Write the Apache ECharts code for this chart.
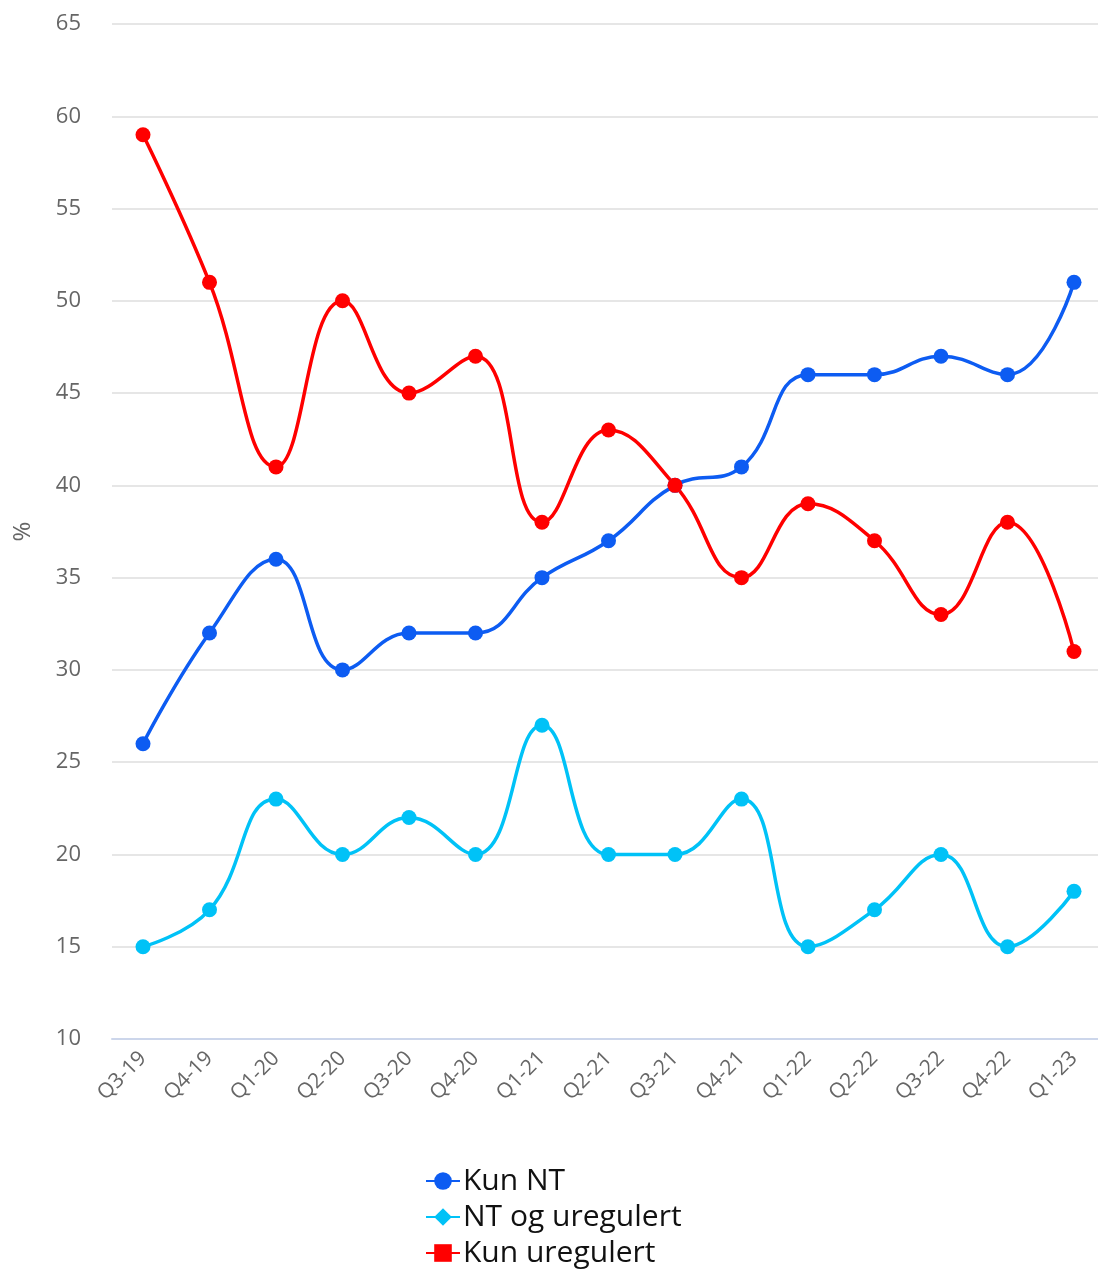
<!DOCTYPE html>
<html><head><meta charset="utf-8">
<script src="https://cdn.jsdelivr.net/npm/echarts@6/dist/echarts.min.js"></script>
<style>html,body{margin:0;padding:0;background:#fff}#c{width:1098px;height:1273px}</style>
</head><body><div id="c"></div>
<script>
const categories = ['Q3-19','Q4-19','Q1-20','Q2-20','Q3-20','Q4-20','Q1-21','Q2-21','Q3-21','Q4-21','Q1-22','Q2-22','Q3-22','Q4-22','Q1-23'];
const kunNT = [26,32,36,30,32,32,35,37,40,41,46,46,47,46,51];
const ntOgUregulert = [15,17,23,20,22,20,27,20,20,23,15,17,20,15,18];
const kunUregulert = [59,51,41,50,45,47,38,43,40,35,39,37,33,38,31];
const seriesNames = ['Kun NT','NT og uregulert','Kun uregulert'];
const colors = ['#0d5cf2','#00c2f7','#ff0000'];
const legendSymbols = ['circle','diamond','rect'];
const values = [kunNT, ntOgUregulert, kunUregulert];

const chart = echarts.init(document.getElementById('c'), null, {renderer:'canvas'});
const font = '"Open Sans", Lato, sans-serif';
const yMin = 10, yMax = 65, yStep = 5;
chart.setOption({
  animation:false,
  color: colors,
  grid:[
    {left:112, right:0, top:24, height:1015},
    {left:143, right:24, top:24, height:1015}
  ],
  xAxis:[
    {gridIndex:0, type:'category', data:categories, show:true,
      axisLine:{show:true, lineStyle:{color:'#ccd6eb', width:2}},
      axisTick:{show:false}, axisLabel:{show:false}, splitLine:{show:false}},
    {gridIndex:1, type:'category', data:categories, boundaryGap:false,
      axisLine:{show:false}, axisTick:{show:false},
      axisLabel:{rotate:45, color:'#666', fontSize:21, fontFamily:font, margin:16, interval:0}}
  ],
  yAxis:[
    {gridIndex:0, type:'value', min:yMin, max:yMax, interval:yStep, name:'%', nameLocation:'middle', nameGap:77,
      nameTextStyle:{color:'#666', fontSize:24, fontFamily:font}, nameRotate:90,
      axisLabel:{color:'#666', fontSize:22, fontFamily:font, margin:31},
      splitLine:{lineStyle:{color:'#e6e6e6', width:2}},
      axisLine:{show:false}, axisTick:{show:false}},
    {gridIndex:1, type:'value', min:yMin, max:yMax, interval:yStep, show:false, splitLine:{show:false}}
  ],
  legend:{orient:'vertical', left:420, top:1161, itemGap:6, itemWidth:34, itemHeight:22,
    textStyle:{color:'#111', fontSize:30, fontFamily:font, padding:[0,0,0,-2]},
    data:seriesNames},
  series: values.map((v,i)=>({
    name:seriesNames[i], type:'line', xAxisIndex:1, yAxisIndex:1, smooth:0.45, symbol:legendSymbols[i], symbolSize:15,
    data:v.map(x=>({value:x, symbol:'circle'})),
    lineStyle:{width:3.5, color:colors[i]}, itemStyle:{color:colors[i]}
  }))
});
</script></body></html>
